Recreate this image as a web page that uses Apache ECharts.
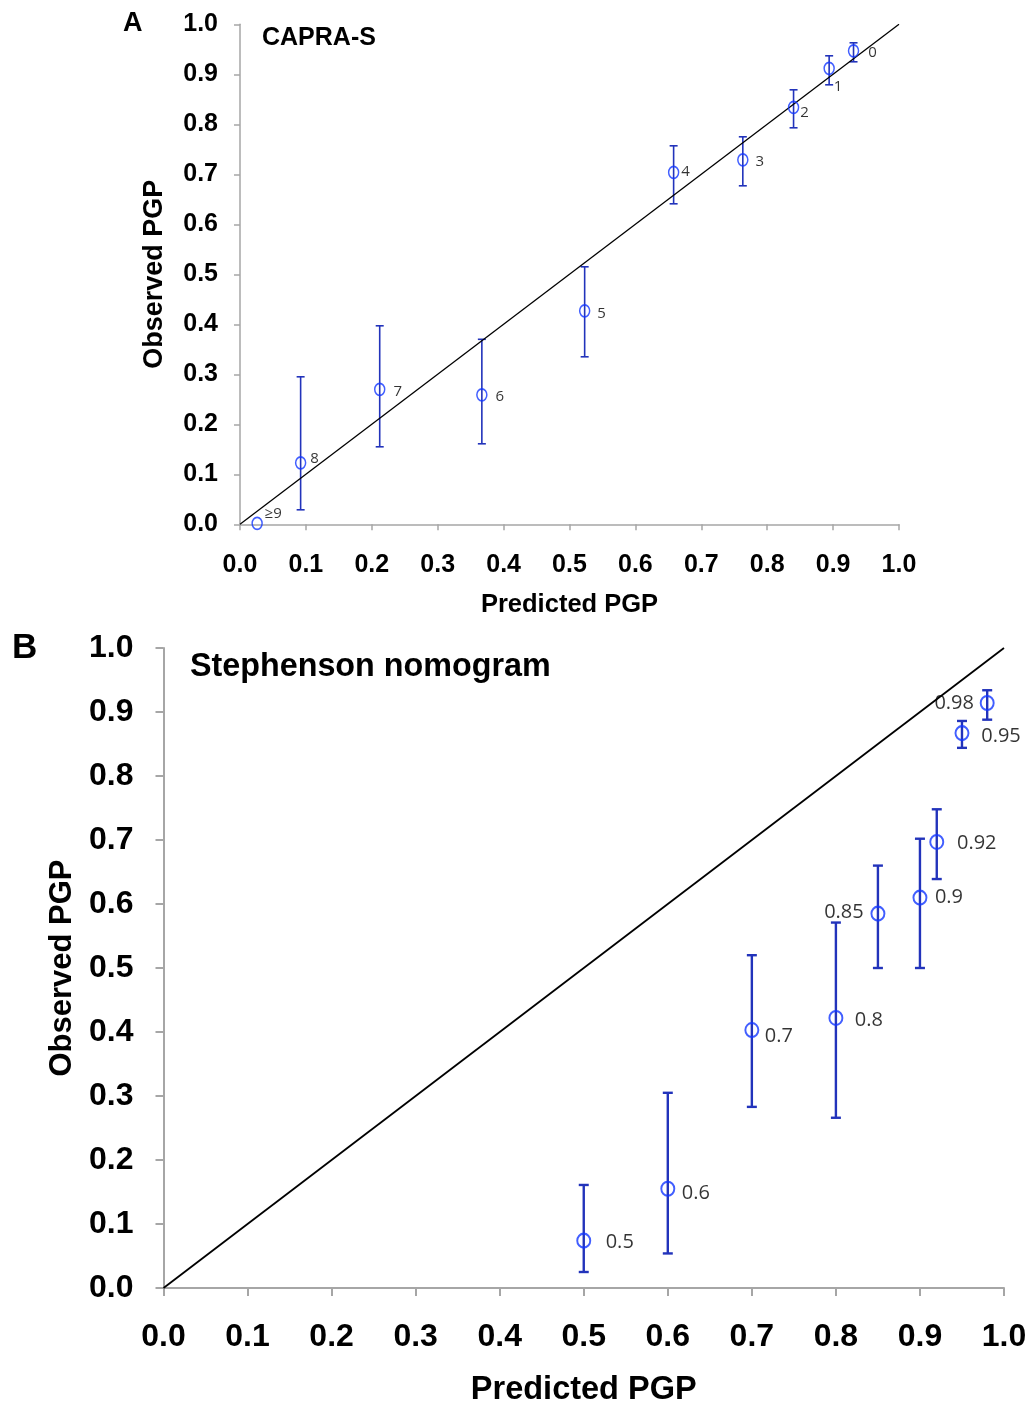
<!DOCTYPE html>
<html><head><meta charset="utf-8">
<script src="https://cdn.jsdelivr.net/npm/echarts@6/dist/echarts.min.js"></script>
<style>html,body{margin:0;padding:0;background:#fff}#c{width:1034px;height:1408px}</style>
</head><body><div id="c"></div>
<script>
// ---------- Panel A: CAPRA-S ----------
const aLabels    = ['0','1','2','3','4','5','6','7','8','\u22659'];
const aPredicted = [0.931,0.894,0.840,0.763,0.658,0.523,0.367,0.212,0.092,0.026];
const aObserved  = [0.947,0.912,0.834,0.729,0.704,0.427,0.259,0.270,0.123,0.002];
const aLower     = [0.925,0.879,0.793,0.677,0.641,0.335,0.161,0.155,0.029,null];
const aUpper     = [0.963,0.937,0.869,0.775,0.757,0.515,0.370,0.397,0.295,null];
// ---------- Panel B: Stephenson nomogram ----------
const bLabels    = ['0.5','0.6','0.7','0.8','0.85','0.9','0.92','0.95','0.98'];
const bPredicted = [0.5,0.6,0.7,0.8,0.85,0.9,0.92,0.95,0.98];
const bObserved  = [0.074,0.155,0.403,0.422,0.585,0.610,0.697,0.867,0.914];
const bLower     = [0.025,0.054,0.283,0.266,0.500,0.500,0.639,0.844,0.888];
const bUpper     = [0.161,0.305,0.520,0.571,0.660,0.702,0.748,0.886,0.934];
// identity reference line
const diagonal = [[0,0],[1,1]];
const axisMin = 0, axisMax = 1, axisStep = 0.1;

// label offsets (style only)
const aLabelOffsets = [[19,2],[9,18],[11,5],[17,2],[12,-1],[17,3],[18,2],[18,2],[14,-4],[16,-10]];
const bLabelOffsets = [[36,2],[28,4],[27,6],[33,2],[-34,-1],[29,0],[40,1],[39,3],[-33,0]];

const CIRCLE = '#1236ff', BAR = '#2233bb', AXIS = '#a6a6a6';
const BOLD = 'Liberation Sans';

function errRender(cap, lw){
  return function(params, api){
    const x = api.value(0), lo = api.value(1), hi = api.value(2);
    const p1 = api.coord([x, lo]), p2 = api.coord([x, hi]);
    const st = {stroke: BAR, lineWidth: lw};
    return {type:'group', children:[
      {type:'line', shape:{x1:p1[0],y1:p1[1],x2:p2[0],y2:p2[1]}, style:st},
      {type:'line', shape:{x1:p1[0]-cap,y1:p1[1],x2:p1[0]+cap,y2:p1[1]}, style:st},
      {type:'line', shape:{x1:p2[0]-cap,y1:p2[1],x2:p2[0]+cap,y2:p2[1]}, style:st}
    ]};
  };
}
function errData(xs, lo, hi){
  const out = [];
  xs.forEach((x,i)=>{ if (lo[i]!=null && hi[i]!=null) out.push([x, lo[i], hi[i]]); });
  return out;
}
function ptData(xs, ys, labels, offs, fs){
  return xs.map((x,i)=>({value:[x, ys[i]], label:{show:true, formatter:labels[i], position:'inside',
    offset:offs[i], align:'center', verticalAlign:'middle', color:'#000', fontFamily:'Open Sans', fontSize:fs}}));
}
function axisCfg(gi, fs, margin, name, nameFs, nameGap, lw, tickLen){
  return {
    type:'value', gridIndex:gi, min:axisMin, max:axisMax, interval:axisStep,
    splitLine:{show:false},
    axisLine:{show:true, onZero:false, lineStyle:{color:AXIS, width:lw}},
    axisTick:{show:true, inside:false, length:tickLen, lineStyle:{color:AXIS, width:lw}},
    axisLabel:{formatter:v=>v.toFixed(1), fontFamily:BOLD, fontWeight:'bold', fontSize:fs, color:'#000', margin:margin},
    name:name, nameLocation:'middle', nameGap:nameGap,
    nameTextStyle:{fontFamily:BOLD, fontWeight:'bold', fontSize:nameFs, color:'#000'}
  };
}

const chart = echarts.init(document.getElementById('c'), null, {renderer:'canvas'});
chart.setOption({
  animation:false,
  backgroundColor:'#fff',
  grid:[
    {left:240, top:24.3, width:659, height:500},
    {left:163.5, top:648, width:840.5, height:640}
  ],
  xAxis:[
    axisCfg(0, 25, 28, 'Predicted PGP', 25.5, 68, 1.5, 6),
    axisCfg(1, 32, 33, 'Predicted PGP', 32.5, 86, 2, 8)
  ],
  yAxis:[
    axisCfg(0, 25, 22, 'Observed PGP', 27, 72, 1.5, 6),
    axisCfg(1, 32, 30, 'Observed PGP', 31, 81, 2, 8)
  ],
  graphic:[
    {type:'text', left:123, top:10, style:{text:'A', font:'bold 27px "Liberation Sans"', fill:'#000'}},
    {type:'text', left:12, top:631, style:{text:'B', font:'bold 35px "Liberation Sans"', fill:'#000'}},
    {type:'text', left:262, top:26, style:{text:'CAPRA-S', font:'bold 25px "Liberation Sans"', fill:'#000'}},
    {type:'text', left:190, top:651, style:{text:'Stephenson nomogram', font:'bold 32.3px "Liberation Sans"', fill:'#000'}}
  ],
  series:[
    {type:'line', xAxisIndex:0, yAxisIndex:0, data:diagonal, symbol:'none', silent:true,
      lineStyle:{color:'#000', width:1.3}},
    {type:'custom', xAxisIndex:0, yAxisIndex:0, renderItem:errRender(4,1.6),
      encode:{x:0, y:[1,2]}, data:errData(aPredicted,aLower,aUpper), z:3},
    {type:'scatter', xAxisIndex:0, yAxisIndex:0, symbol:'circle', symbolSize:[10,12],
      itemStyle:{color:'rgba(255,255,255,0)', borderColor:CIRCLE, borderWidth:1.6}, z:4,
      data:ptData(aPredicted,aObserved,aLabels,aLabelOffsets,15)},
    {type:'line', xAxisIndex:1, yAxisIndex:1, data:diagonal, symbol:'none', silent:true,
      lineStyle:{color:'#000', width:1.8}},
    {type:'custom', xAxisIndex:1, yAxisIndex:1, renderItem:errRender(5,2.4),
      encode:{x:0, y:[1,2]}, data:errData(bPredicted,bLower,bUpper), z:3},
    {type:'scatter', xAxisIndex:1, yAxisIndex:1, symbol:'circle', symbolSize:[13,14],
      itemStyle:{color:'rgba(255,255,255,0)', borderColor:CIRCLE, borderWidth:2}, z:4,
      data:ptData(bPredicted,bObserved,bLabels,bLabelOffsets,20)}
  ]
});
</script></body></html>
